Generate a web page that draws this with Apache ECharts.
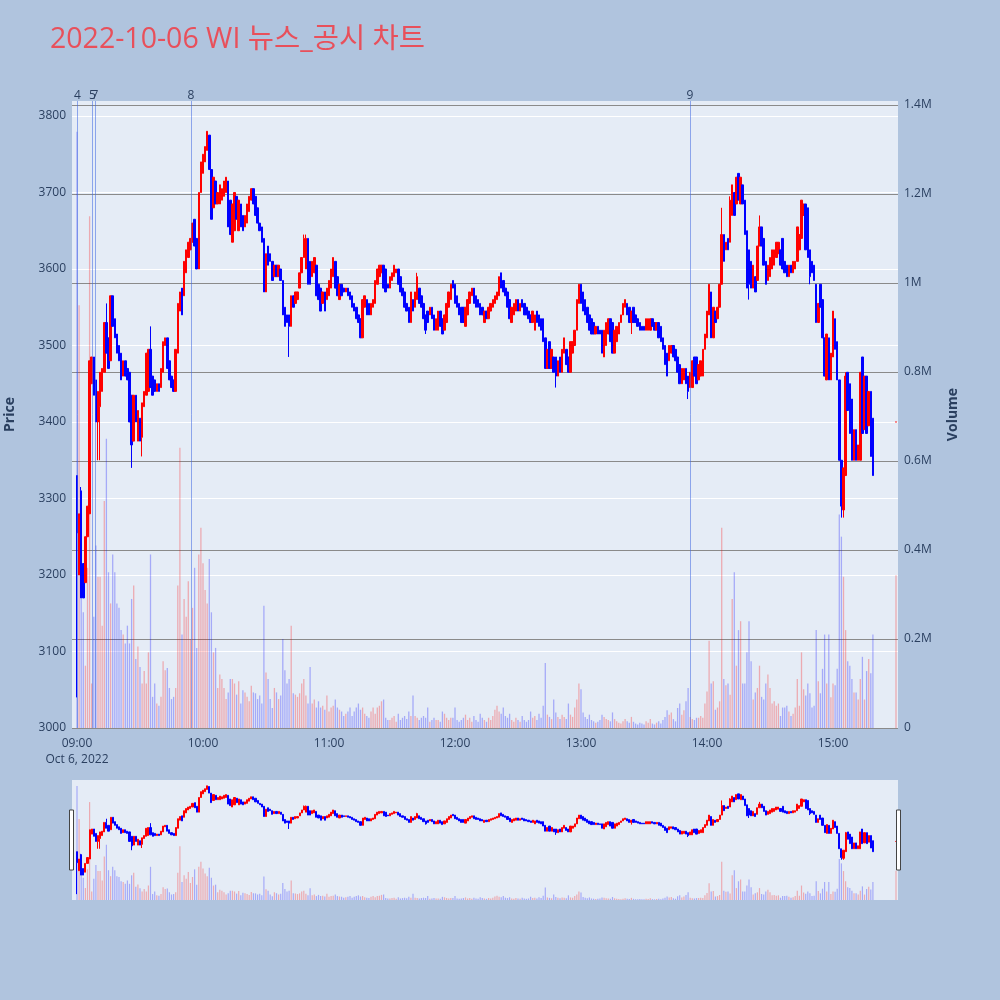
<!DOCTYPE html>
<html>
<head>
<meta charset="utf-8">
<script src="https://cdn.jsdelivr.net/npm/echarts@6/dist/echarts.min.js"></script>
<style>
html,body{margin:0;padding:0;background:#b0c4de;}
#chart{width:1000px;height:1000px;}
</style>
</head>
<body>
<div id="chart"></div>
<script>
// ---------------- data (1-minute candles from 09:00, index = minute) ----------------
const chartTitle = '2022-10-06 WI 뉴스_공시 차트';
const sessionDate = [2022, 9, 6];          // year, monthIndex, day (UTC)
const sessionStart = [9, 0];                // 09:00

const opens = [
3330,3200,3310,3215,3190,3250,3280,3450,3485,3455,
3400,3420,3440,3465,3530,3510,3480,3565,3535,3515,
3500,3490,3460,3480,3470,3465,3435,3375,3435,3375,
3405,3380,3420,3435,3440,3495,3460,3455,3440,3450,
3445,3465,3500,3510,3480,3460,3455,3440,3490,3545,
3575,3565,3595,3615,3625,3635,3665,3640,3600,3700,
3725,3740,3755,3775,3730,3680,3715,3685,3685,3690,
3695,3700,3715,3690,3635,3650,3695,3650,3685,3670,
3655,3660,3675,3690,3705,3695,3680,3660,3655,3640,
3570,3630,3620,3610,3590,3605,3590,3600,3585,3550,
3540,3540,3525,3565,3555,3560,3575,3595,3615,3600,
3640,3610,3590,3595,3605,3580,3575,3555,3570,3560,
3565,3575,3590,3610,3590,3560,3580,3575,3570,3575,
3570,3565,3555,3550,3540,3535,3510,3550,3560,3555,
3540,3550,3555,3580,3590,3595,3605,3600,3580,3575,
3585,3590,3595,3600,3590,3575,3570,3555,3550,3530,
3560,3550,3560,3575,3565,3555,3540,3545,3540,3550,
3540,3520,3520,3545,3535,3520,3530,3550,3560,3585,
3580,3565,3555,3550,3550,3525,3540,3555,3565,3575,
3565,3560,3555,3550,3530,3545,3535,3545,3550,3555,
3560,3565,3595,3585,3575,3570,3560,3530,3540,3545,
3560,3545,3560,3555,3550,3545,3540,3530,3520,3545,
3540,3535,3535,3510,3470,3505,3470,3485,3485,3460,
3485,3465,3490,3495,3485,3465,3490,3500,3520,3555,
3580,3570,3560,3550,3540,3535,3530,3515,3525,3520,
3520,3485,3500,3515,3535,3530,3490,3505,3515,3530,
3540,3550,3555,3550,3530,3550,3540,3535,3530,3525,
3525,3520,3520,3520,3535,3530,3520,3530,3525,3510,
3500,3490,3480,3490,3500,3495,3485,3475,3450,3455,
3470,3460,3445,3445,3485,3485,3455,3460,3460,3495,
3510,3540,3570,3510,3545,3535,3550,3580,3645,3625,
3640,3635,3670,3700,3685,3725,3685,3710,3690,3650,
3625,3610,3575,3590,3585,3630,3655,3640,3610,3585,
3590,3600,3605,3615,3620,3625,3640,3610,3605,3590,
3605,3595,3600,3610,3625,3640,3670,3685,3680,3625,
3610,3605,3580,3530,3580,3560,3510,3455,3510,3455,
3485,3535,3505,3455,3350,3285,3330,3465,3450,3430,
3350,3390,3350,3350,3485,3390,3460,3395,3440,3405
];
const closes = [
3255,3280,3170,3170,3250,3290,3480,3485,3435,3400,
3440,3465,3470,3530,3490,3470,3565,3525,3510,3490,
3480,3455,3480,3460,3455,3400,3370,3435,3400,3415,
3375,3425,3440,3490,3495,3445,3435,3440,3450,3440,
3470,3505,3510,3470,3455,3445,3440,3495,3555,3570,
3540,3610,3625,3635,3640,3660,3630,3600,3700,3740,
3750,3760,3780,3730,3665,3720,3685,3700,3710,3705,
3715,3720,3655,3645,3685,3700,3665,3690,3655,3650,
3670,3685,3695,3705,3685,3670,3660,3650,3635,3570,
3620,3605,3610,3585,3605,3590,3605,3585,3540,3525,
3530,3525,3565,3550,3570,3570,3595,3615,3640,3640,
3580,3580,3610,3615,3565,3560,3545,3570,3545,3575,
3585,3600,3615,3575,3565,3580,3565,3570,3575,3565,
3560,3550,3545,3535,3530,3510,3560,3565,3540,3540,
3555,3560,3585,3600,3605,3605,3575,3570,3575,3590,
3595,3605,3600,3580,3570,3565,3550,3545,3530,3570,
3545,3570,3590,3555,3550,3535,3520,3530,3550,3535,
3520,3535,3545,3525,3515,3540,3555,3570,3580,3575,
3555,3550,3540,3530,3530,3550,3560,3570,3575,3555,
3550,3550,3540,3540,3545,3535,3550,3555,3560,3565,
3570,3590,3575,3570,3565,3550,3535,3550,3555,3560,
3545,3555,3550,3540,3540,3535,3530,3545,3540,3530,
3525,3520,3505,3470,3495,3470,3495,3465,3460,3480,
3465,3495,3510,3475,3465,3505,3505,3520,3560,3580,
3555,3545,3540,3530,3520,3515,3515,3525,3515,3515,
3490,3520,3530,3535,3505,3490,3520,3525,3530,3540,
3555,3560,3540,3530,3545,3530,3530,3525,3520,3520,
3520,3535,3535,3535,3525,3520,3530,3510,3505,3495,
3475,3460,3500,3500,3485,3480,3465,3450,3470,3470,
3450,3440,3465,3480,3460,3450,3475,3480,3495,3515,
3545,3580,3510,3550,3530,3550,3580,3645,3610,3635,
3625,3690,3710,3670,3720,3690,3720,3685,3645,3575,
3580,3575,3605,3570,3630,3655,3630,3605,3580,3605,
3615,3625,3625,3635,3635,3605,3600,3595,3590,3605,
3595,3610,3610,3655,3645,3690,3685,3625,3615,3590,
3595,3585,3530,3555,3550,3510,3460,3515,3455,3490,
3545,3495,3455,3350,3290,3340,3460,3415,3385,3350,
3390,3350,3370,3465,3385,3460,3385,3440,3355,3330
];
// wick extremes where they stick out of the body (minute index -> price)
const wickLows  = {0:3040, 10:3350, 11:3350, 26:3340, 31:3355, 101:3485, 166:3515, 218:3520,
                   228:3445, 264:3515, 291:3430, 320:3560, 349:3580, 364:3275, 365:3275};
const wickHighs = {2:3315, 14:3555, 35:3525, 108:3645, 109:3645, 162:3595, 307:3680, 311:3695,
                   325:3670, 366:3465};
// volume in thousands of shares, per minute
const volumesK = [
1340,950,340,260,140,360,1150,100,250,410,
340,340,230,510,650,350,280,390,350,280,
270,220,210,190,230,190,290,320,155,183,
137,100,128,100,170,390,70,100,55,50,
70,150,130,135,90,65,70,90,320,630,
210,290,250,330,200,270,360,180,390,450,
370,310,280,380,260,170,180,90,120,110,
90,65,80,110,110,100,75,105,55,85,
80,70,60,95,80,78,65,73,55,275,
125,110,65,45,90,80,65,73,200,130,
100,110,230,78,75,70,78,100,110,73,
55,137,55,64,46,60,46,50,41,73,
37,46,50,64,46,41,37,27,32,37,
46,27,37,46,55,41,46,32,27,23,
37,46,32,46,50,60,64,23,18,18,
23,27,14,32,18,23,27,20,37,27,
73,27,23,18,23,27,23,46,14,18,
23,18,18,14,37,32,23,18,23,23,
46,18,14,18,23,30,18,23,14,27,
18,14,32,23,18,14,23,18,27,41,
50,37,32,46,27,23,32,18,14,23,
18,14,27,18,14,18,37,23,27,18,
32,23,50,146,30,25,20,64,35,25,
20,30,25,20,55,30,25,46,64,100,
87,35,25,20,30,18,15,12,14,18,
30,25,20,18,15,35,20,15,12,10,
15,20,15,12,25,14,10,8,12,10,
8,15,12,20,10,8,12,15,10,18,
25,40,30,35,20,15,45,55,30,40,
60,90,25,20,18,23,23,27,23,55,
82,196,100,105,41,46,60,450,110,96,
100,75,290,350,140,220,240,100,100,170,
240,150,64,80,90,140,70,64,100,120,
90,55,60,50,55,27,46,46,50,37,
27,32,46,110,50,170,87,73,100,78,
46,50,220,105,78,133,210,100,210,69,
100,96,133,480,430,340,220,150,140,110,
80,80,64,110,160,64,128,155,123,210
];
// closing single trade at 15:30
const closingTrade = {minute: 390, open: 3400, close: 3400, volumeK: 343};
// news / disclosure markers
const newsMarks = [
  {label: '4', time: '09:00:14'},
  {label: '5', time: '09:07:23'},
  {label: '7', time: '09:08:34'},
  {label: '8', time: '09:54:17'},
  {label: '9', time: '13:51:54'}
];
const hourTickLabels = ['09:00','10:00','11:00','12:00','13:00','14:00','15:00'];
const dateLabel = 'Oct 6, 2022';

// ---------------- build ----------------
const MIN = 60000;
const T0 = Date.UTC(sessionDate[0], sessionDate[1], sessionDate[2], sessionStart[0], sessionStart[1], 0);
function clock(s) {
  const p = s.split(':').map(Number);
  return Date.UTC(sessionDate[0], sessionDate[1], sessionDate[2], p[0], p[1], p[2] || 0);
}
const RED = '#ff0000', BLUE = '#0000ff';
const RED_V = 'rgba(255,0,0,0.28)', BLUE_V = 'rgba(0,0,255,0.28)';
const FONT = '"Open Sans", "Noto Sans CJK KR", sans-serif';
const TXT = '#2a3f5f';

const candles = [], vols = [];
function pushCandle(minute, o, c, lo, hi, vK) {
  const t = T0 + minute * MIN;
  candles.push([t, o, c, Math.min(o, c, lo), Math.max(o, c, hi)]);
  vols.push([t, vK * 1000, c >= o ? 1 : -1]);
}
opens.forEach((o, i) => {
  const c = closes[i];
  const lo = wickLows[i] !== undefined ? wickLows[i] : Math.min(o, c);
  const hi = wickHighs[i] !== undefined ? wickHighs[i] : Math.max(o, c);
  pushCandle(i, o, c, lo, hi, volumesK[i]);
});
pushCandle(closingTrade.minute, closingTrade.open, closingTrade.close,
  closingTrade.open, closingTrade.close, closingTrade.volumeK);

const X_MIN = T0 - 2.38 * MIN, X_MAX = T0 + 390.95 * MIN;
const P_MIN = 3000, P_MAX = 3819.6;
const V_MAX = 1409000;

function volumeBars(width) {
  return function (params, api) {
    const t = api.value(0), v = api.value(1), dir = api.value(2);
    const top = api.coord([t, v]);
    const base = api.coord([t, 0]);
    return {
      type: 'rect',
      shape: {x: top[0] - width / 2, y: top[1], width: width, height: base[1] - top[1]},
      style: {fill: dir > 0 ? RED_V : BLUE_V}
    };
  };
}

const chart = echarts.init(document.getElementById('chart'), null, {renderer: 'canvas'});
const option = {
  useUTC: true,
  animation: false,
  backgroundColor: '#b0c4de',
  title: {
    text: chartTitle, left: 50, top: 26, padding: 0,
    textStyle: {color: '#e8505b', fontSize: 28.5, fontWeight: 'normal', fontFamily: FONT}
  },
  grid: [
    {left: 72, right: 102, top: 101, bottom: 272, show: true, backgroundColor: '#e5ecf6', borderWidth: 0,
     containLabel: false, outerBoundsMode: 'none'},
    {left: 72, right: 102, top: 780, height: 120, show: true, backgroundColor: '#e5ecf6', borderWidth: 0,
     containLabel: false, outerBoundsMode: 'none'}
  ],
  xAxis: [
    {
      type: 'time', gridIndex: 0, min: X_MIN, max: X_MAX, splitNumber: 7,
      axisLine: {show: false}, axisTick: {show: false}, splitLine: {show: false},
      axisLabel: {
        color: TXT, fontSize: 12, fontFamily: FONT, margin: 8, lineHeight: 16,
        formatter: function (v) {
          const d = new Date(v);
          if (d.getUTCMinutes() !== 0 || d.getUTCSeconds() !== 0) return '';
          const lab = String(d.getUTCHours()).padStart(2, '0') + ':00';
          if (hourTickLabels.indexOf(lab) < 0) return '';
          return lab === hourTickLabels[0] ? lab + '\n' + dateLabel : lab;
        }
      }
    },
    {type: 'time', gridIndex: 1, min: X_MIN, max: X_MAX, show: false}
  ],
  yAxis: [
    {
      type: 'value', gridIndex: 0, position: 'left', min: P_MIN, max: P_MAX, interval: 100,
      name: 'Price', nameLocation: 'middle', nameGap: 55, nameRotate: 90,
      nameTextStyle: {color: TXT, fontSize: 14, fontWeight: 'bold', fontFamily: FONT},
      axisLine: {show: false}, axisTick: {show: false},
      axisLabel: {
        color: TXT, fontSize: 12, fontFamily: FONT, margin: 6,
        formatter: function (v) { const k = Math.round(v / 100); return Math.abs(v - k * 100) < 0.01 ? String(k * 100) : ''; }
      },
      splitLine: {show: true, showMaxLine: false, lineStyle: {color: '#ffffff', width: 1}}
    },
    {
      type: 'value', gridIndex: 0, position: 'right', min: 0, max: V_MAX, interval: 200000,
      name: 'Volume', nameLocation: 'middle', nameGap: 48, nameRotate: 90,
      nameTextStyle: {color: TXT, fontSize: 14, fontWeight: 'bold', fontFamily: FONT},
      axisLine: {show: false}, axisTick: {show: false},
      axisLabel: {
        color: TXT, fontSize: 12, fontFamily: FONT, margin: 6,
        formatter: function (v) {
          const k = Math.round(v / 200000);
          if (Math.abs(v - k * 200000) > 1) return '';
          if (k === 0) return '0';
          return (k * 0.2).toFixed(1).replace(/\.0$/, '') + 'M';
        }
      },
      splitLine: {show: true, showMaxLine: false, lineStyle: {color: '#8a8a8a', width: 1}}
    },
    {type: 'value', gridIndex: 1, min: P_MIN, max: P_MAX, show: false},
    {type: 'value', gridIndex: 1, min: 0, max: V_MAX, show: false}
  ],
  series: [
    {
      type: 'custom', name: 'vol', xAxisIndex: 0, yAxisIndex: 1, data: vols,
      encode: {x: 0, y: 1}, renderItem: volumeBars(1.3), z: 1, silent: true, clip: true
    },
    {
      type: 'candlestick', name: 'price', xAxisIndex: 0, yAxisIndex: 0, data: candles,
      barWidth: 2, z: 3, silent: true,
      itemStyle: {color: RED, color0: BLUE, borderColor: RED, borderColor0: BLUE, borderWidth: 1},
      markLine: {
        symbol: ['none', 'none'], silent: true, animation: false,
        lineStyle: {color: 'rgba(65,105,225,0.55)', width: 1, type: 'solid'},
        label: {show: true, position: 'end', distance: -1, color: TXT, fontSize: 12, fontFamily: FONT},
        emphasis: {disabled: true},
        data: newsMarks.map(n => ({xAxis: clock(n.time), label: {formatter: n.label}}))
      }
    },
    {
      type: 'custom', name: 'vol-mini', xAxisIndex: 1, yAxisIndex: 3, data: vols,
      encode: {x: 0, y: 1}, renderItem: volumeBars(1.2), z: 1, silent: true, clip: true
    },
    {
      type: 'candlestick', name: 'price-mini', xAxisIndex: 1, yAxisIndex: 2, data: candles,
      barWidth: 1.6, z: 3, silent: true,
      itemStyle: {color: RED, color0: BLUE, borderColor: RED, borderColor0: BLUE, borderWidth: 1}
    }
  ],
  graphic: [
    {type: 'rect', shape: {x: 69.5, y: 810, width: 4, height: 60}, style: {fill: '#ffffff', stroke: '#444444', lineWidth: 1}, z: 100},
    {type: 'rect', shape: {x: 896.5, y: 810, width: 4, height: 60}, style: {fill: '#ffffff', stroke: '#444444', lineWidth: 1}, z: 100}
  ]
};
chart.setOption(option);
</script>
</body>
</html>
